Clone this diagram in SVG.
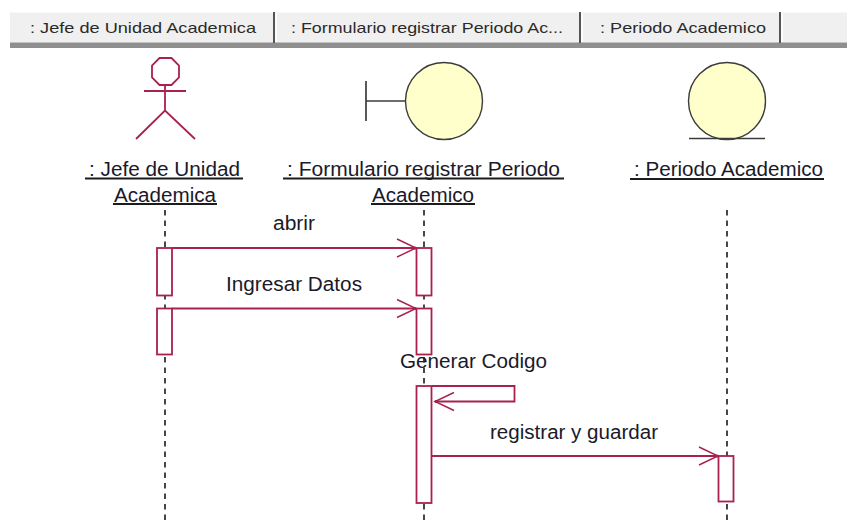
<svg xmlns="http://www.w3.org/2000/svg" width="847" height="521" viewBox="0 0 847 521">
<style>
text{font-family:"Liberation Sans",Arial,sans-serif;fill:#1a1a2a}
.tab{font-size:15px;fill:#2a2a2a}
.lbl{font-size:20px}
.u{stroke:#1c1c1c;stroke-width:1.8;fill:none}
.m{stroke:#a8214f;stroke-width:1.8;fill:none}
.b{stroke:#a8214f;stroke-width:1.8;fill:#fff}
.o{stroke:#3c3c3c;stroke-width:1.7;fill:none}
.c{stroke:#3c3c3c;stroke-width:1.4;fill:#ffffcb}
.life{stroke:#333;stroke-width:1.8;stroke-dasharray:5.5 5;fill:none}
</style>
<defs>
<marker id="open" markerUnits="userSpaceOnUse" markerWidth="24" markerHeight="24" refX="20" refY="12" orient="auto"><path d="M1 3L20 12L1 21" fill="none" stroke="#a8214f" stroke-width="1.4"/><circle cx="19" cy="12" r="1.6" fill="#a8214f"/></marker>
</defs>
<g id="toolbar">
<rect x="10" y="12.500" width="837" height="30" fill="#f0f0f0"/>
<rect x="10" y="42.500" width="837" height="5.500" fill="#8f8f8f"/>
<path d="M274 12V43M580 12V43M780 12V43" stroke="#555" stroke-width="2" fill="none"/>
<path d="M276 13V42M582 13V42M782 13V42" stroke="#fff" stroke-width="1.5" fill="none"/>
<text class="tab" x="30" y="33" textLength="226" lengthAdjust="spacingAndGlyphs">: Jefe de Unidad Academica</text>
<text class="tab" x="291" y="33" textLength="272" lengthAdjust="spacingAndGlyphs">: Formulario registrar Periodo Ac...</text>
<text class="tab" x="600" y="33" textLength="166" lengthAdjust="spacingAndGlyphs">: Periodo Academico</text>
</g>
<g id="lifelines">
<path class="life" d="M165 210V521"/>
<path class="life" d="M424 210V521"/>
<path class="life" d="M727 210V521"/>
</g>
<g id="jefe">
<path class="m" d="M159.500 58H171.500L179 65.500V77.500L171.500 85H159.500L152 77.500V65.500ZM165 85V110.500M144 91H186M136 139L165 110.500L195 139"/>
<text class="lbl" x="89" y="176" textLength="151" lengthAdjust="spacingAndGlyphs">: Jefe de Unidad</text>
<path class="u" d="M85 178.500H243"/>
<text class="lbl" x="114" y="202" textLength="102" lengthAdjust="spacingAndGlyphs">Academica</text>
<path class="u" d="M113 204H217"/>
<rect class="b" x="157" y="248" width="15" height="47.500"/>
<rect class="b" x="157" y="308.500" width="15" height="46"/>
</g>
<g id="formulario">
<path class="o" d="M366 81V121M366 101H405"/>
<circle class="c" cx="444" cy="101" r="38.500"/>
<text class="lbl" x="287" y="176" textLength="273" lengthAdjust="spacingAndGlyphs">: Formulario registrar Periodo</text>
<path class="u" d="M283 178.500H564"/>
<text class="lbl" x="372" y="202" textLength="102" lengthAdjust="spacingAndGlyphs">Academico</text>
<path class="u" d="M371 204H475"/>
<rect class="b" x="416.500" y="248" width="15" height="47.500"/>
<rect class="b" x="416.500" y="308.500" width="15" height="46"/>
<rect class="b" x="416.500" y="386" width="15" height="117"/>
</g>
<g id="periodo">
<circle class="c" cx="727" cy="101" r="38.500"/>
<path class="o" d="M689 138.500H765"/>
<text class="lbl" x="634" y="176" textLength="189" lengthAdjust="spacingAndGlyphs">: Periodo Academico</text>
<path class="u" d="M630 179H824"/>
<rect class="b" x="718.500" y="456" width="15" height="45.500"/>
</g>
<g id="connectors">
<path class="m" marker-end="url(#open)" d="M172 248H416"/>
<path class="m" marker-end="url(#open)" d="M172 308.500H416"/>
<path class="m" marker-end="url(#open)" d="M432 386H514.500V401.500H435"/>
<path class="m" marker-end="url(#open)" d="M432 456H718"/>
</g>
<g id="labels">
<text class="lbl" x="273" y="230" textLength="42" lengthAdjust="spacingAndGlyphs">abrir</text>
<text class="lbl" x="226" y="291" textLength="136" lengthAdjust="spacingAndGlyphs">Ingresar Datos</text>
<text class="lbl" x="400" y="368" textLength="147" lengthAdjust="spacingAndGlyphs">Generar Codigo</text>
<text class="lbl" x="490" y="439" textLength="168" lengthAdjust="spacingAndGlyphs">registrar y guardar</text>
</g>
</svg>
